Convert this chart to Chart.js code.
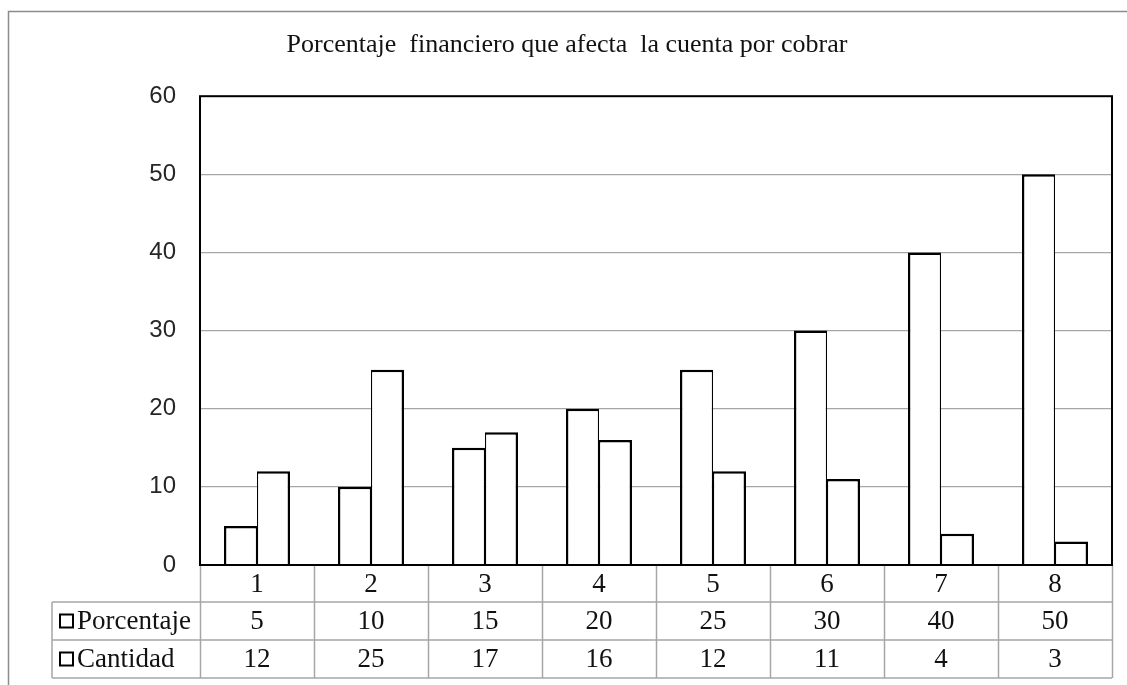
<!DOCTYPE html>
<html>
<head>
<meta charset="utf-8">
<script src="https://cdn.jsdelivr.net/npm/chart.js@4"></script>
<style>
  html, body { margin: 0; padding: 0; background: #fff; }
  #wrap { width: 1127px; height: 685px; }
</style>
</head>
<body>
<div id="wrap"><canvas id="grafico" width="1127" height="685"></canvas></div>
<script>
const CATEGORIAS = ['1', '2', '3', '4', '5', '6', '7', '8'];
const PORCENTAJE = [5, 10, 15, 20, 25, 30, 40, 50];
const CANTIDAD = [12, 25, 17, 16, 12, 11, 4, 3];
const SERIES = ['Porcentaje', 'Cantidad'];
const TICKS_Y = [0, 10, 20, 30, 40, 50, 60];

const serif = '"Liberation Serif", "Times New Roman", serif';
const sans = '"Liberation Sans", Arial, sans-serif';

// marco, borde del área y tabla de datos bajo el eje
const tablaPlugin = {
    id: 'tabla',
    beforeDraw(chart) {
        const ctx = chart.ctx;
        ctx.save();
        ctx.strokeStyle = '#8c8c8c';
        ctx.lineWidth = 1.5;
        ctx.beginPath();
        ctx.moveTo(8.5, 685);
        ctx.lineTo(8.5, 11.5);
        ctx.lineTo(1127, 11.5);
        ctx.stroke();
        ctx.restore();
    },
    afterDatasetsDraw(chart) {
        const ctx = chart.ctx;
        const area = chart.chartArea;
        const x = chart.scales.x;
        const filas = [area.bottom, area.bottom + 37, area.bottom + 75, area.bottom + 113];
        const izq = 52;
        const n = CATEGORIAS.length;
        const paso = (area.right - area.left) / n;

        ctx.save();
        ctx.strokeStyle = '#a6a6a6';
        ctx.lineWidth = 1.5;
        ctx.beginPath();
        // líneas horizontales
        ctx.moveTo(izq, filas[1]); ctx.lineTo(area.right, filas[1]);
        ctx.moveTo(izq, filas[2]); ctx.lineTo(area.right, filas[2]);
        ctx.moveTo(izq, filas[3]); ctx.lineTo(area.right, filas[3]);
        // líneas verticales
        ctx.moveTo(izq, filas[1]); ctx.lineTo(izq, filas[3]);
        for (let i = 0; i <= n; i++) {
            const xx = Math.round(area.left + i * paso) + 0.5;
            ctx.moveTo(xx, filas[0]); ctx.lineTo(xx, filas[3]);
        }
        ctx.stroke();

        // borde negro del área de trazado
        ctx.strokeStyle = '#000';
        ctx.lineWidth = 2;
        ctx.strokeRect(area.left, area.top, area.right - area.left, area.bottom - area.top);

        // textos
        ctx.fillStyle = '#111';
        ctx.font = '27px ' + serif;
        ctx.textAlign = 'center';
        ctx.textBaseline = 'middle';
        const valores = [CATEGORIAS, PORCENTAJE, CANTIDAD];
        for (let f = 0; f < 3; f++) {
            const yy = (filas[f] + filas[f + 1]) / 2 + 1;
            for (let i = 0; i < n; i++) {
                ctx.fillText(String(valores[f][i]), x.getPixelForValue(i), yy);
            }
        }
        // leyenda en la tabla
        ctx.textAlign = 'left';
        ctx.strokeStyle = '#000';
        ctx.lineWidth = 2;
        for (let s = 0; s < SERIES.length; s++) {
            const yy = (filas[s + 1] + filas[s + 2]) / 2;
            ctx.strokeRect(60, yy - 6.5, 13, 13);
            ctx.fillText(SERIES[s], 77, yy + 1);
        }
        ctx.restore();
    }
};

new Chart(document.getElementById('grafico'), {
    type: 'bar',
    data: {
        labels: CATEGORIAS,
        datasets: [
            {
                label: SERIES[0],
                data: PORCENTAJE,
                backgroundColor: '#fff',
                borderColor: '#000',
                borderWidth: { top: 2.5, left: 2.5, right: 1.25, bottom: 0 }
            },
            {
                label: SERIES[1],
                data: CANTIDAD,
                backgroundColor: '#fff',
                borderColor: '#000',
                borderWidth: { top: 2.5, left: 1.25, right: 2.5, bottom: 0 }
            }
        ]
    },
    options: {
        responsive: false,
        animation: false,
        layout: { padding: { left: 22, right: 15, top: 0, bottom: 120 } },
        datasets: {
            bar: { categoryPercentage: 0.58, barPercentage: 1 }
        },
        scales: {
            x: {
                display: false
            },
            y: {
                min: 0,
                max: 60,
                afterFit: (scale) => { scale.width = 178; },
                afterBuildTicks: (scale) => { scale.ticks = TICKS_Y.map(v => ({ value: v })); },
                border: { display: false },
                grid: {
                    drawTicks: false,
                    lineWidth: 1.2,
                    color: (c) => (c.tick.value === 0 || c.tick.value === 60) ? 'rgba(0,0,0,0)' : '#a6a6a6'
                },
                ticks: {
                    padding: 24,
                    color: '#262626',
                    font: { family: sans, size: 24 }
                }
            }
        },
        plugins: {
            legend: { display: false },
            tooltip: { enabled: false },
            title: {
                display: true,
                text: 'Porcentaje  financiero que afecta  la cuenta por cobrar',
                color: '#111',
                font: { family: serif, size: 26, weight: 'normal' },
                padding: { top: 30, bottom: 35 }
            }
        }
    },
    plugins: [tablaPlugin]
});
</script>
</body>
</html>
